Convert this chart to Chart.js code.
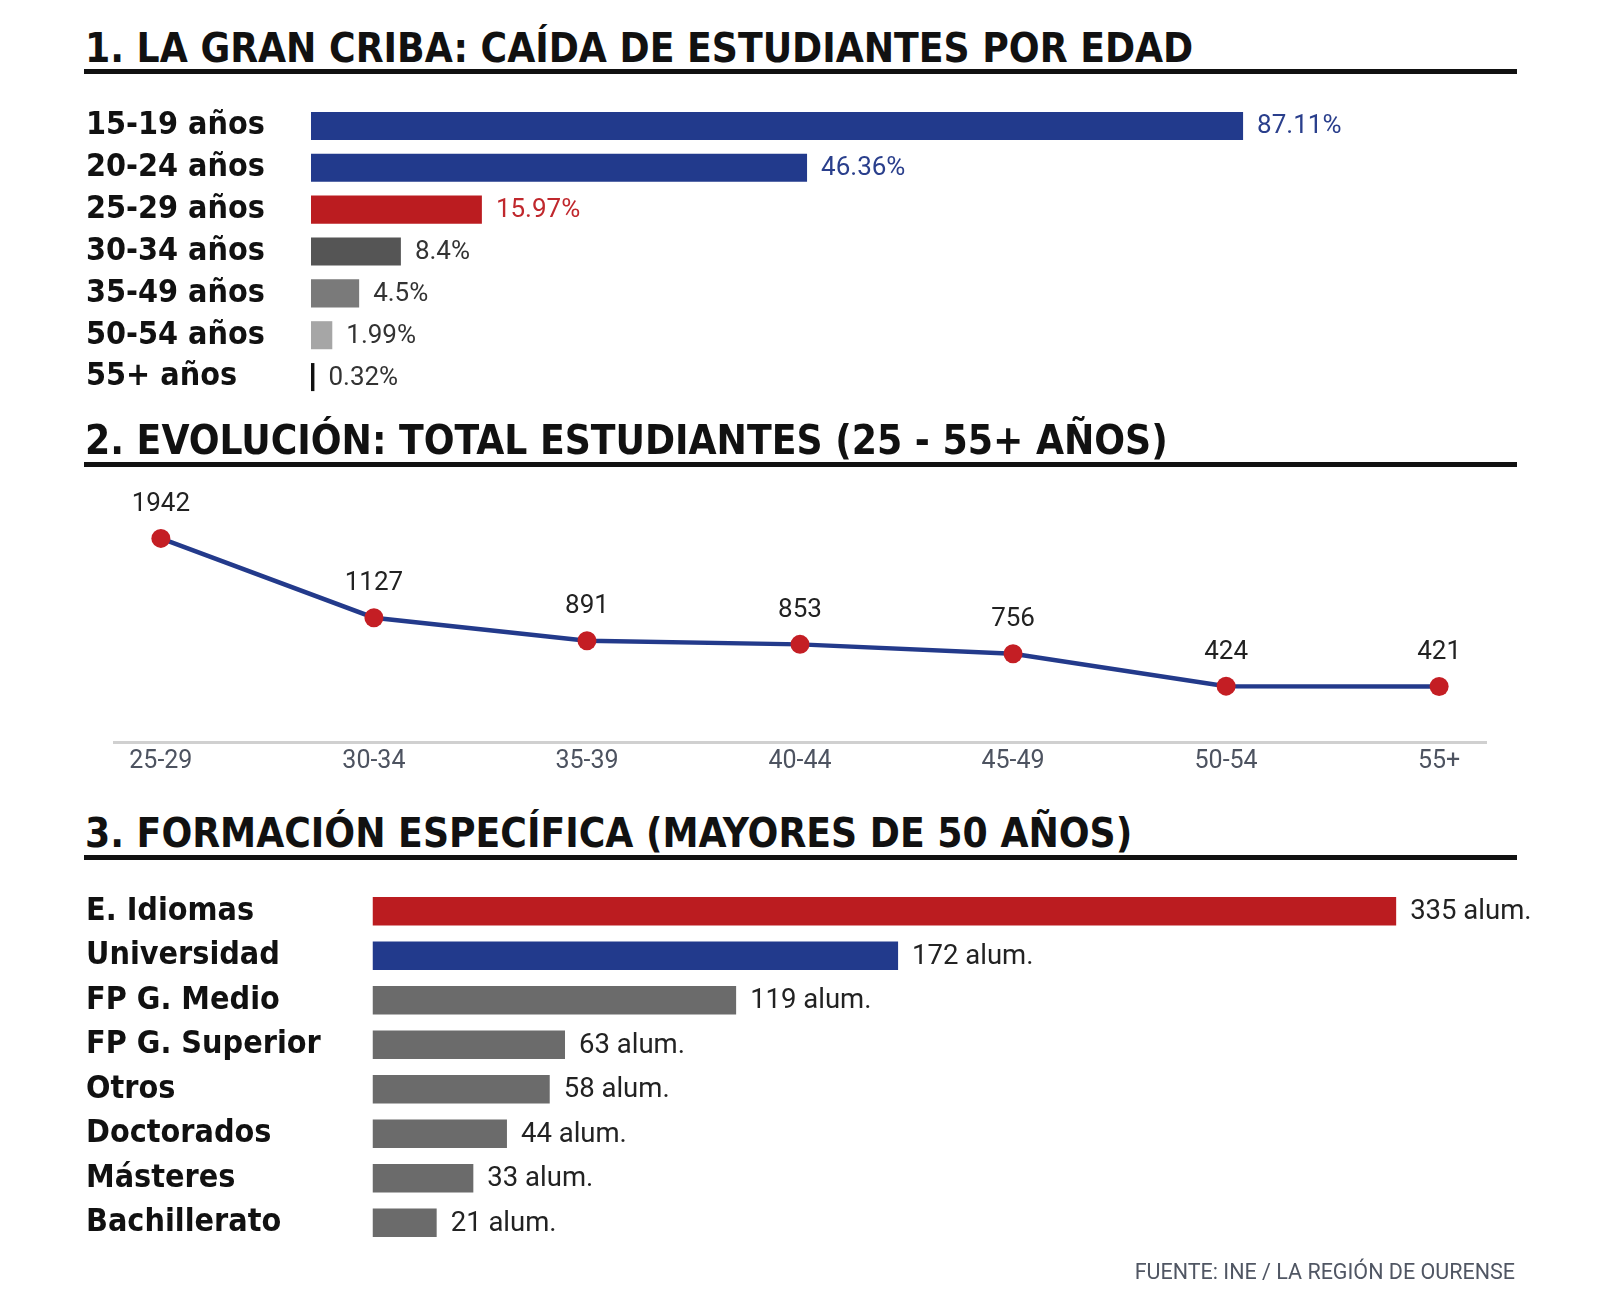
<!DOCTYPE html>
<html lang="es">
<head>
<meta charset="utf-8">
<script src="https://cdn.jsdelivr.net/npm/chart.js@4"></script>
<style>
  html, body { margin: 0; padding: 0; background: #fff; }
  #lienzo { position: relative; width: 1600px; height: 1309px; overflow: hidden; }
  .titulo {
    position: absolute; left: 85px; margin: 0;
    font: bold 40.3px/40px "DejaVu Sans Condensed", "DejaVu Sans", sans-serif;
    font-stretch: condensed; color: #111; white-space: nowrap;
  }
  .raya { position: absolute; left: 84px; width: 1433px; height: 5px; background: #111; }
  canvas { position: absolute; left: 0; }
  #fuente {
    position: absolute; right: 85px; top: 1259px;
    font: 21.5px/26px Roboto, sans-serif; color: #505663;
  }
</style>
</head>
<body>
<div id="lienzo">
  <h2 class="titulo" style="top:29px">1. LA GRAN CRIBA: CAÍDA DE ESTUDIANTES POR EDAD</h2>
  <div class="raya" style="top:69px"></div>
  <canvas id="g1" width="1600" height="333" style="top:85px"></canvas>

  <h2 class="titulo" style="top:421px">2. EVOLUCIÓN: TOTAL ESTUDIANTES (25 - 55+ AÑOS)</h2>
  <div class="raya" style="top:462px"></div>
  <canvas id="g2" width="1600" height="312" style="top:470px"></canvas>

  <h2 class="titulo" style="top:814px">3. FORMACIÓN ESPECÍFICA (MAYORES DE 50 AÑOS)</h2>
  <div class="raya" style="top:855px"></div>
  <canvas id="g3" width="1600" height="396" style="top:869px"></canvas>

  <div id="fuente">FUENTE: INE / LA REGIÓN DE OURENSE</div>
</div>
<script>
// 1. tasa de estudiantes por edad
const EDADES = ["15-19 años", "20-24 años", "25-29 años", "30-34 años", "35-49 años", "50-54 años", "55+ años"];
const PORCENTAJES = [87.11, 46.36, 15.97, 8.4, 4.5, 1.99, 0.32];
const COLOR_BARRA_EDAD = ["#223a8c", "#223a8c", "#bb1c20", "#555555", "#7a7a7a", "#a6a6a6", "#111111"];
const COLOR_TEXTO_EDAD = ["#2a3f8c", "#2a3f8c", "#c0282d", "#333333", "#333333", "#333333", "#333333"];

// 2. total de estudiantes 25 - 55+
const TRAMOS = ["25-29", "30-34", "35-39", "40-44", "45-49", "50-54", "55+"];
const TOTALES = [1942, 1127, 891, 853, 756, 424, 421];

// 3. mayores de 50
const FORMACION = ["E. Idiomas", "Universidad", "FP G. Medio", "FP G. Superior", "Otros", "Doctorados", "Másteres", "Bachillerato"];
const ALUMNOS = [335, 172, 119, 63, 58, 44, 33, 21];
const COLOR_FORMACION = ["#bb1c20", "#223a8c", "#6b6b6b", "#6b6b6b", "#6b6b6b", "#6b6b6b", "#6b6b6b", "#6b6b6b"];

const FUENTE_ETIQ = { family: "'DejaVu Sans Condensed', 'DejaVu Sans'", weight: "bold", size: 32 };

Chart.defaults.animation = false;
Chart.defaults.plugins.legend.display = false;
Chart.defaults.plugins.tooltip.enabled = false;

// escribe el valor al lado de cada barra / encima de cada punto
function etiquetas(texto, colores, horizontal, fuente) {
  return {
    id: "etiquetas",
    afterDatasetsDraw(chart) {
      const ctx = chart.ctx;
      const meta = chart.getDatasetMeta(0);
      ctx.save();
      ctx.font = fuente;
      ctx.textBaseline = "middle";
      meta.data.forEach((el, i) => {
        ctx.fillStyle = Array.isArray(colores) ? colores[i] : colores;
        if (horizontal) {
          ctx.textAlign = "left";
          ctx.fillText(texto(i), el.x + 14, el.y + 1);
        } else {
          ctx.textAlign = "center";
          ctx.fillText(texto(i), el.x, el.y - 34);
        }
      });
      ctx.restore();
    }
  };
}

function barras(id, etiq, valores, colores, max, anchoEje, der, grosor, texto, coloresTexto, fuente) {
  new Chart(document.getElementById(id), {
    type: "bar",
    data: {
      labels: etiq,
      datasets: [{ data: valores, backgroundColor: colores, categoryPercentage: 1, barPercentage: grosor }]
    },
    options: {
      indexAxis: "y",
      responsive: false,
      layout: { padding: { left: 86, right: der, top: 20, bottom: 20 } },
      scales: {
        x: { display: false, min: 0, max: max },
        y: {
          grid: { display: false, drawTicks: false },
          border: { display: false },
          ticks: { crossAlign: "far", padding: 0, color: "#111", font: FUENTE_ETIQ },
          afterFit: (s) => { s.width = anchoEje; }
        }
      }
    },
    plugins: [etiquetas(texto, coloresTexto, true, fuente)]
  });
}

barras("g1", EDADES, PORCENTAJES, COLOR_BARRA_EDAD, 100, 225, 219, 0.67,
  (i) => PORCENTAJES[i] + "%", COLOR_TEXTO_EDAD, "26px Roboto, sans-serif");

barras("g3", FORMACION, ALUMNOS, COLOR_FORMACION, 350, 286.5, 158, 0.643,
  (i) => ALUMNOS[i] + " alum.", "#222", "27.5px Roboto, sans-serif");

new Chart(document.getElementById("g2"), {
  type: "line",
  data: {
    datasets: [{
      data: TOTALES.map((v, i) => ({ x: i, y: v })),
      borderColor: "#233a8b",
      borderWidth: 4.5,
      pointRadius: 9.5,
      pointBackgroundColor: "#c41e24",
      pointBorderColor: "#c41e24",
      pointBorderWidth: 0,
      tension: 0
    }]
  },
  options: {
    responsive: false,
    layout: { padding: { left: 114, right: 114, top: 53, bottom: 0 } },
    scales: {
      x: {
        type: "linear", min: -0.22, max: 6.22,
        grid: { display: false, drawTicks: false },
        border: { display: true, color: "#d0d0d0", width: 3 },
        afterBuildTicks: (s) => { s.ticks = TRAMOS.map((_, i) => ({ value: i })); },
        ticks: {
          autoSkip: false, maxRotation: 0, padding: 5,
          color: "#4d5360", font: { family: "Roboto", size: 25 },
          callback: (v) => TRAMOS[v]
        },
        afterFit: (s) => { s.height = 40; }
      },
      y: { display: false, min: -150, max: 2100 }
    }
  },
  plugins: [etiquetas((i) => TOTALES[i], "#222", false, "26px Roboto, sans-serif")]
});
</script>
</body>
</html>
